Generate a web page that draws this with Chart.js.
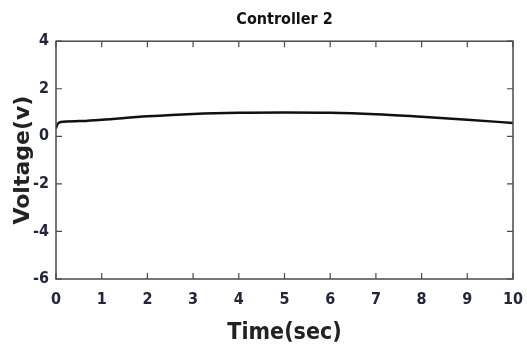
<!DOCTYPE html>
<html>
<head>
<meta charset="utf-8">
<script src="https://cdn.jsdelivr.net/npm/chart.js@4.4.1/dist/chart.umd.min.js"></script>
<style>
  html, body { margin: 0; padding: 0; background: #fff; }
  #wrap { width: 527px; height: 361px; }
</style>
</head>
<body>
<div id="wrap"><canvas id="c" width="527" height="361"></canvas></div>
<script>
// time (sec) and voltage
const timeSec = [0, 0.03, 0.1, 0.5, 1, 2, 3, 4, 5, 6, 7, 8, 9, 10];
const voltage = [0.34, 0.5, 0.6, 0.64, 0.7, 0.84, 0.94, 0.99, 1.0, 0.99, 0.93, 0.82, 0.7, 0.56];
const xTicks = [0, 1, 2, 3, 4, 5, 6, 7, 8, 9, 10];
const yTicks = [-6, -4, -2, 0, 2, 4];

const points = timeSec.map((t, i) => ({ x: t, y: voltage[i] }));

// box + inward ticks on all four sides, like the matlab axes
const boxTicks = {
  id: "boxTicks",
  afterDraw(chart) {
    const ctx = chart.ctx;
    const a = chart.chartArea;
    const xs = chart.scales.x;
    const ys = chart.scales.y;
    ctx.save();
    ctx.strokeStyle = "#4a4a4a";
    ctx.lineWidth = 1.5;
    ctx.strokeRect(a.left, a.top, a.right - a.left, a.bottom - a.top);
    ctx.lineWidth = 1.2;
    const len = 6;
    ctx.beginPath();
    xTicks.forEach((v) => {
      const px = xs.getPixelForValue(v);
      ctx.moveTo(px, a.bottom);
      ctx.lineTo(px, a.bottom - len);
      ctx.moveTo(px, a.top);
      ctx.lineTo(px, a.top + len);
    });
    yTicks.forEach((v) => {
      const py = ys.getPixelForValue(v);
      ctx.moveTo(a.left, py);
      ctx.lineTo(a.left + len, py);
      ctx.moveTo(a.right, py);
      ctx.lineTo(a.right - len, py);
    });
    ctx.stroke();
    ctx.restore();
  },
};

const narrow = "'DejaVu Sans Condensed', 'Liberation Sans Narrow', sans-serif";
const tickFont = { family: narrow, size: 16, weight: "bold" };

new Chart(document.getElementById("c"), {
  type: "line",
  data: {
    datasets: [
      {
        data: points,
        borderColor: "#111",
        borderWidth: 2.5,
        pointRadius: 0,
        cubicInterpolationMode: "monotone",
        fill: false,
      },
    ],
  },
  options: {
    responsive: false,
    animation: false,
    layout: { padding: { left: 0, right: 0, top: 0, bottom: 14 } },
    plugins: {
      legend: { display: false },
      tooltip: { enabled: false },
      title: {
        display: true,
        fullSize: false,
        text: "Controller 2",
        color: "#111",
        font: { family: narrow, size: 16, weight: "bold" },
        padding: { top: 10, bottom: 12 },
      },
    },
    scales: {
      x: {
        type: "linear",
        min: 0,
        max: 10,
        afterBuildTicks: (s) => { s.ticks = xTicks.map((v) => ({ value: v })); },
        afterFit: (s) => {
          s.height = 68;
          s.paddingLeft = 0;
          s.paddingRight = 14;
        },
        grid: { display: false, drawTicks: false },
        border: { display: false },
        ticks: { color: "#23263a", font: tickFont, padding: 11, maxRotation: 0 },
        title: {
          display: true,
          text: "Time(sec)",
          color: "#222",
          font: { family: narrow, size: 23, weight: "bold" },
          padding: { top: 2, bottom: 0 },
        },
      },
      y: {
        type: "linear",
        min: -6,
        max: 4,
        afterBuildTicks: (s) => { s.ticks = yTicks.map((v) => ({ value: v })); },
        afterFit: (s) => { s.width = 56; },
        grid: { display: false, drawTicks: false },
        border: { display: false },
        ticks: { color: "#23263a", font: tickFont, padding: 7 },
        title: {
          display: true,
          text: "Voltage(v)",
          color: "#222",
          font: { family: "'DejaVu Sans', sans-serif", size: 22, weight: "bold" },
          padding: { top: 10, bottom: 0 },
        },
      },
    },
  },
  plugins: [boxTicks],
});
</script>
</body>
</html>
